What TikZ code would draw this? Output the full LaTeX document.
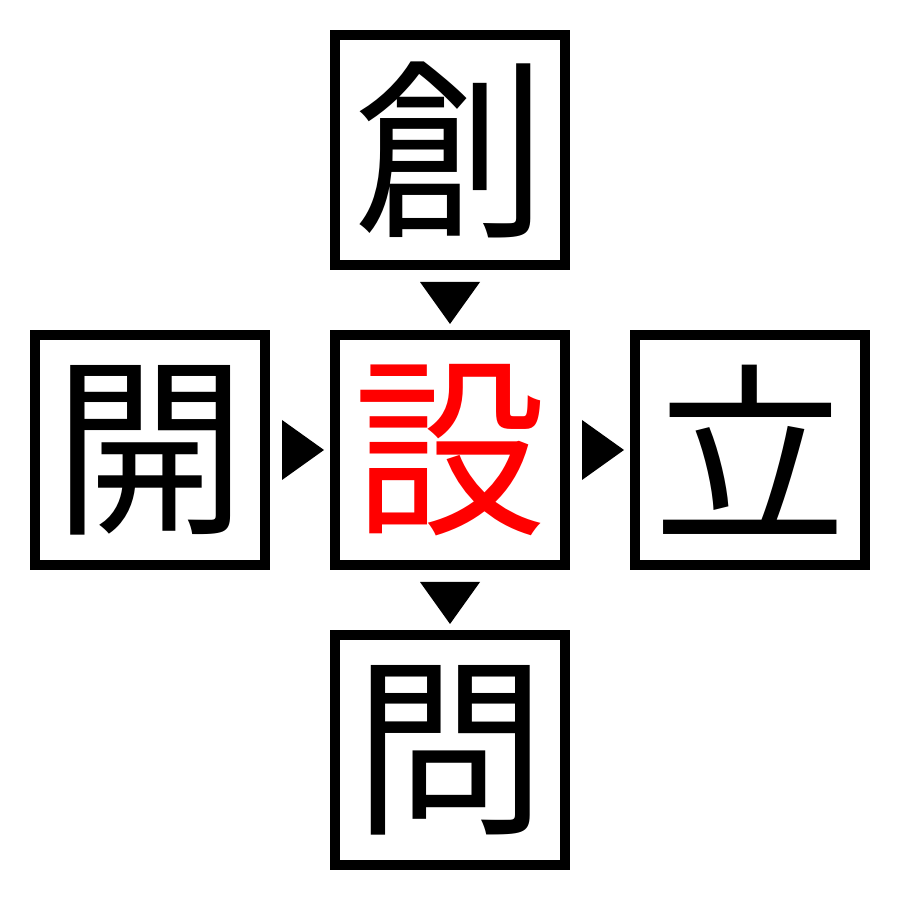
\documentclass[tikz,border=0pt]{standalone}
\usepackage{fontspec}
\newfontfamily\cjk{Noto Sans CJK JP}
\usepackage{xcolor}
\usepackage{tikz}
\usetikzlibrary{calc}

\begin{document}
\begin{tikzpicture}[
    kanjibox/.style={draw,line width=1mm,minimum size=2.3cm,inner sep=0pt,
        font=\cjk\fontsize{55}{55}\selectfont},
    pointer/.style={fill=black}
]
    \useasboundingbox (0,0) rectangle (9,9);

    % Boxes
    \node[kanjibox] (top) at (4.5,7.5) {創};
    \node[kanjibox] (left) at (1.5,4.5) {開};
    \node[kanjibox,text=red] (mid) at (4.5,4.5) {設};
    \node[kanjibox] (right) at (7.5,4.5) {立};
    \node[kanjibox] (bottom) at (4.5,1.5) {問};

    % Triangles
    \fill[pointer] ($(top.south)+(-0.3,-0.12)$) -- ($(top.south)+(0.3,-0.12)$) -- ($(top.south)+(0,-0.54)$) -- cycle;
    \fill[pointer] ($(left.east)+(0.12,0.3)$) -- ($(left.east)+(0.12,-0.3)$) -- ($(left.east)+(0.54,0)$) -- cycle;
    \fill[pointer] ($(mid.east)+(0.12,0.3)$) -- ($(mid.east)+(0.12,-0.3)$) -- ($(mid.east)+(0.54,0)$) -- cycle;
    \fill[pointer] ($(mid.south)+(-0.3,-0.12)$) -- ($(mid.south)+(0.3,-0.12)$) -- ($(mid.south)+(0,-0.54)$) -- cycle;
\end{tikzpicture}
\end{document}
